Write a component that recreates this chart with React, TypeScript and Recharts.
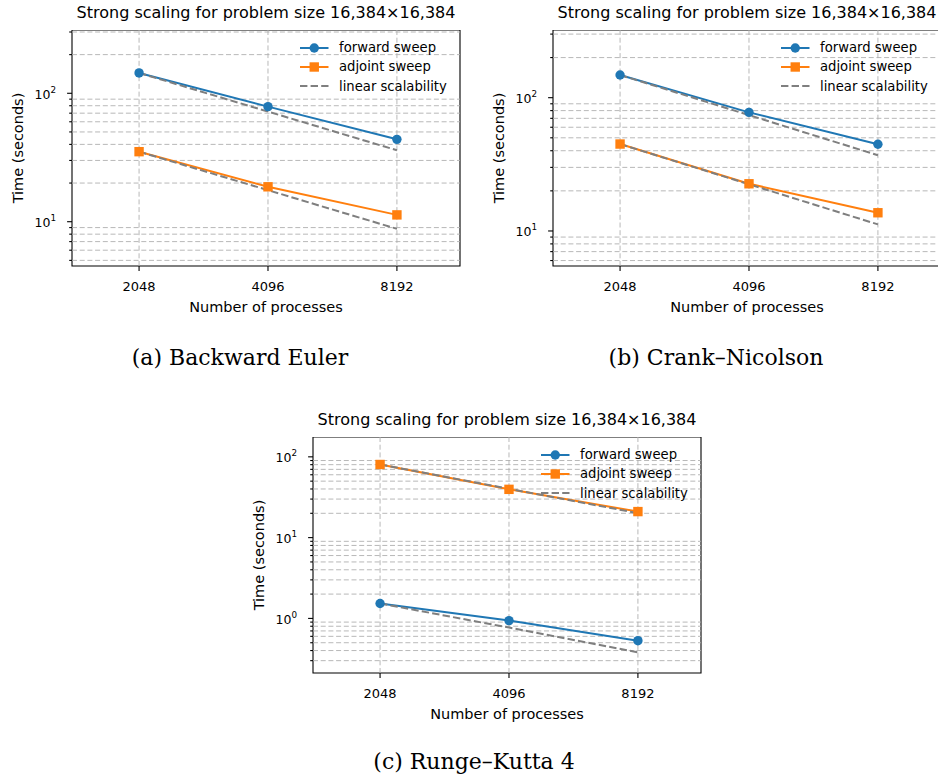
import React from 'react';
import {
  LineChart,
  Line,
  XAxis,
  YAxis,
  ReferenceLine,
  ReferenceArea,
  Legend,
} from 'recharts';

const processes = [2048, 4096, 8192];
const legendOrder = ['forward sweep', 'adjoint sweep', 'linear scalability'];

// (a) Backward Euler
const beForward = [144, 78.7, 43.8];
const beAdjoint = [35.1, 18.7, 11.3];
const beLinearF = [144, 72, 36];
const beLinearA = [35.1, 17.6, 8.8];
const beYTicks = [5, 6, 7, 8, 9, 10, 20, 30, 40, 50, 60, 70, 80, 90, 100, 200, 300];

// (b) Crank–Nicolson
const cnForward = [148, 77.6, 44.7];
const cnAdjoint = [44.9, 22.6, 13.7];
const cnLinearF = [148, 74, 37];
const cnLinearA = [44.9, 22.4, 11.2];
const cnYTicks = [6, 7, 8, 9, 10, 20, 30, 40, 50, 60, 70, 80, 90, 100, 200, 300];

// (c) Runge–Kutta 4
const rkForward = [1.53, 0.94, 0.53];
const rkAdjoint = [80.4, 39.6, 21.0];
const rkLinearF = [1.53, 0.77, 0.38];
const rkLinearA = [80.4, 40.2, 20.1];
const rkYTicks = [0.3, 0.4, 0.5, 0.6, 0.7, 0.8, 0.9, 1, 2, 3, 4, 5, 6, 7, 8, 9, 10, 20, 30, 40, 50, 60, 70, 80, 90, 100];

const TITLE = 'Strong scaling for problem size 16,384×16,384';
const FONT = '"DejaVu Sans", sans-serif';
const SERIF = '"DejaVu Serif", serif';
const BLUE = '#1f77b4';
const ORANGE = '#ff7f0e';
const GRAY = '#7f7f7f';
const GRID = '#b0b0b0';

const X_DOMAIN = [1428, 11500];

const isMajor = (v: number) => Math.abs(Math.log10(v) - Math.round(Math.log10(v))) < 1e-6;

const YTick = (props: any) => {
  const { x, y, payload } = props;
  const v = payload.value;
  const major = isMajor(v);
  const len = major ? 4.9 : 2.8;
  return (
    <g>
      <line x1={x - len} x2={x} y1={y} y2={y} stroke="#000" strokeWidth={1.1} />
      {major && (
        <text x={x - 16} y={y} dy={5.5} textAnchor="end" fontFamily={FONT} fontSize={12.5} fill="#000">
          10<tspan dy={-6} fontSize={8.8}>{Math.round(Math.log10(v))}</tspan>
        </text>
      )}
    </g>
  );
};

const XTick = (props: any) => {
  const { x, y, payload } = props;
  return (
    <g>
      <line x1={x} x2={x} y1={y} y2={y + 4.9} stroke="#000" strokeWidth={1.1} />
      <text x={x} y={y + 24.5} textAnchor="middle" fontFamily={FONT} fontSize={13} fill="#000">
        {payload.value}
      </text>
    </g>
  );
};

const SquareDot = (props: any) => {
  const { cx, cy } = props;
  if (cx == null || cy == null) return <g />;
  return <rect x={cx - 4.7} y={cy - 4.7} width={9.4} height={9.4} fill={ORANGE} />;
};

const LegendContent = (props: any) => {
  const payload = (props.payload || [])
    .filter((e: any) => e.type !== 'none' && legendOrder.includes(e.value))
    .sort((a: any, b: any) => legendOrder.indexOf(a.value) - legendOrder.indexOf(b.value));
  return (
    <div style={{ fontFamily: FONT, fontSize: 13.2, color: '#000' }}>
      {payload.map((entry: any) => (
        <div key={entry.value} style={{ display: 'flex', alignItems: 'center', height: 19.4 }}>
          <svg width={29} height={12} style={{ overflow: 'visible' }}>
            <line
              x1={0}
              x2={28.5}
              y1={6}
              y2={6}
              stroke={entry.color}
              strokeWidth={2}
              strokeDasharray={entry.value === 'linear scalability' ? '7.4 3.2' : undefined}
            />
            {entry.value === 'forward sweep' && <circle cx={14.25} cy={6} r={4.7} fill={BLUE} />}
            {entry.value === 'adjoint sweep' && <rect x={9.55} y={1.3} width={9.4} height={9.4} fill={ORANGE} />}
          </svg>
          <span style={{ marginLeft: 10, whiteSpace: 'nowrap', lineHeight: '19.4px' }}>{entry.value}</span>
        </div>
      ))}
    </div>
  );
};

type PanelProps = {
  left: number;
  top: number;
  forward: number[];
  adjoint: number[];
  linF: number[];
  linA: number[];
  yDomain: number[];
  yTicks: number[];
};

const Panel = ({ left, top, forward, adjoint, linF, linA, yDomain, yTicks }: PanelProps) => {
  const rows = processes.map((p, i) => ({
    p,
    forward: forward[i],
    adjoint: adjoint[i],
    linF: linF[i],
    linA: linA[i],
  }));
  const minor = yTicks.filter((v) => !isMajor(v));
  return (
    <div style={{ position: 'absolute', left, top }}>
      <div
        style={{
          position: 'absolute',
          left: 72,
          top: -25.3,
          width: 388,
          textAlign: 'center',
          fontFamily: FONT,
          fontSize: 16,
          lineHeight: '16px',
          whiteSpace: 'nowrap',
          color: '#000',
        }}
      >
        {TITLE}
      </div>
      <LineChart width={470} height={290} data={rows} margin={{ top: 0, right: 10, bottom: 0, left: 0 }}>
        <XAxis
          dataKey="p"
          type="number"
          scale="log"
          domain={X_DOMAIN}
          allowDataOverflow
          ticks={processes}
          interval={0}
          tick={(p: any) => <XTick {...p} />}
          tickLine={false}
          axisLine={false}
          tickSize={0}
          tickMargin={0}
          height={54}
          label={{
            value: 'Number of processes',
            position: 'insideBottom',
            offset: 8,
            style: { fontFamily: FONT, fontSize: 14.5, fill: '#000' },
          }}
        />
        <YAxis
          type="number"
          scale="log"
          domain={yDomain}
          allowDataOverflow
          ticks={yTicks}
          interval={0}
          tick={(p: any) => <YTick {...p} />}
          tickLine={false}
          axisLine={false}
          tickSize={0}
          tickMargin={0}
          width={72}
          label={{
            value: 'Time (seconds)',
            angle: -90,
            position: 'insideLeft',
            offset: 18,
            style: { fontFamily: FONT, fontSize: 14.5, fill: '#000', textAnchor: 'middle' },
          }}
        />
        {minor.map((v) => (
          <ReferenceLine key={'h' + v} y={v} stroke={GRID} strokeWidth={0.9} strokeDasharray="5 2.7" />
        ))}
        {processes.map((v) => (
          <ReferenceLine key={'v' + v} x={v} stroke={GRID} strokeWidth={0.9} strokeDasharray="5 2.7" />
        ))}
        <Line
          dataKey="forward"
          name="forward sweep"
          stroke={BLUE}
          strokeWidth={2}
          type="linear"
          dot={{ r: 4.7, fill: BLUE, stroke: BLUE, strokeWidth: 0 }}
          activeDot={false}
          isAnimationActive={false}
        />
        <Line
          dataKey="adjoint"
          name="adjoint sweep"
          stroke={ORANGE}
          strokeWidth={2}
          type="linear"
          dot={(p: any) => <SquareDot key={p.index} {...p} />}
          activeDot={false}
          isAnimationActive={false}
        />
        <Line
          dataKey="linF"
          name="linear scalability"
          stroke={GRAY}
          strokeWidth={2}
          strokeDasharray="7.4 3.2"
          type="linear"
          dot={false}
          activeDot={false}
          isAnimationActive={false}
        />
        <Line
          dataKey="linA"
          name="linear scalability (adjoint)"
          legendType="none"
          stroke={GRAY}
          strokeWidth={2}
          strokeDasharray="7.4 3.2"
          type="linear"
          dot={false}
          activeDot={false}
          isAnimationActive={false}
        />
        <ReferenceArea
          x1={X_DOMAIN[0]}
          x2={X_DOMAIN[1]}
          y1={yDomain[0]}
          y2={yDomain[1]}
          fill="none"
          fillOpacity={0}
          stroke="#000"
          strokeWidth={1.1}
          ifOverflow="visible"
        />
        <Legend
          layout="vertical"
          align="center"
          verticalAlign="middle"
          content={(p: any) => <LegendContent {...p} />}
          wrapperStyle={{ left: 300, top: 8, width: 'auto' }}
        />
      </LineChart>
    </div>
  );
};

const Caption = ({ x, y, text }: { x: number; y: number; text: string }) => (
  <div
    style={{
      position: 'absolute',
      left: x - 200,
      top: y,
      width: 400,
      textAlign: 'center',
      fontFamily: SERIF,
      fontSize: 22,
      lineHeight: '22px',
      whiteSpace: 'nowrap',
      color: '#000',
    }}
  >
    {text}
  </div>
);

export default function App() {
  return (
    <div
      style={{
        position: 'absolute',
        left: 0,
        top: 0,
        width: 938,
        height: 780,
        overflow: 'hidden',
        background: '#fff',
      }}
    >
      <Panel
        left={0}
        top={30}
        forward={beForward}
        adjoint={beAdjoint}
        linF={beLinearF}
        linA={beLinearA}
        yDomain={[4.52, 311]}
        yTicks={beYTicks}
      />
      <Panel
        left={481}
        top={30}
        forward={cnForward}
        adjoint={cnAdjoint}
        linF={cnLinearF}
        linA={cnLinearA}
        yDomain={[5.46, 322]}
        yTicks={cnYTicks}
      />
      <Panel
        left={241}
        top={437}
        forward={rkForward}
        adjoint={rkAdjoint}
        linF={rkLinearF}
        linA={rkLinearA}
        yDomain={[0.211, 176]}
        yTicks={rkYTicks}
      />
      <Caption x={240} y={347} text="(a) Backward Euler" />
      <Caption x={716} y={347} text="(b) Crank–Nicolson" />
      <Caption x={474} y={751} text="(c) Runge–Kutta 4" />
    </div>
  );
}
